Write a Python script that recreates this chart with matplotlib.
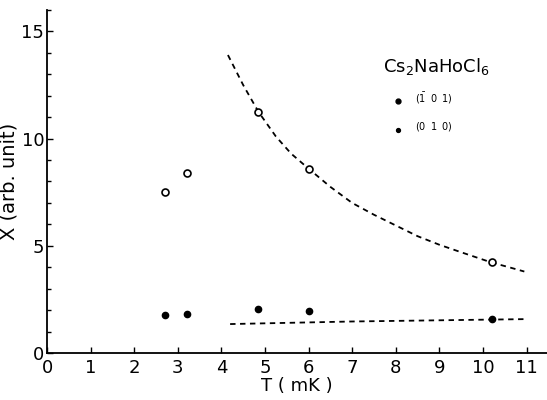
import matplotlib
matplotlib.use("Agg")
import matplotlib.pyplot as plt
from matplotlib.ticker import MultipleLocator

# measured points, T (mK) vs X (arb. unit)
t_pts = [2.7, 3.2, 4.85, 6.0, 10.2]
x_open = [7.5, 8.4, 11.25, 8.6, 4.23]   # (-1 0 1)
x_fill = [1.78, 1.82, 2.07, 1.97, 1.57]  # (0 1 0)

# dashed guide curves
t_up = [4.15, 4.5, 4.85, 5.25, 5.6, 6.0, 6.5, 7.0, 7.5, 8.0, 8.5, 9.0, 9.5, 10.2, 10.6, 10.95]
x_up = [13.9, 12.5, 11.25, 10.1, 9.3, 8.6, 7.75, 7.0, 6.45, 5.95, 5.45, 5.05, 4.7, 4.22, 4.0, 3.8]
t_low = [4.2, 7.0, 10.95]
x_low = [1.35, 1.47, 1.58]

plt.rcParams['font.family'] = 'DejaVu Sans'

fig = plt.figure(figsize=(5.47, 4.0), dpi=100)
ax = fig.add_axes([0.086, 0.1175, 0.914, 0.8575])

ax.plot(t_up, x_up, color='black', linestyle=(0, (3, 2.5)), linewidth=1.3)
ax.plot(t_low, x_low, color='black', linestyle=(0, (3, 2.5)), linewidth=1.3)

ax.plot(t_pts, x_open, 'o', markersize=5, markerfacecolor='white',
        markeredgecolor='black', markeredgewidth=1.2, zorder=3)
ax.plot(t_pts, x_fill, 'o', markersize=4.5, markerfacecolor='black',
        markeredgecolor='black', zorder=3)

ax.set_xlim(0, 11.47)
ax.set_ylim(0, 16)
ax.spines['top'].set_visible(False)
ax.spines['right'].set_visible(False)
ax.spines['left'].set_linewidth(1.3)
ax.spines['bottom'].set_linewidth(1.3)

ax.xaxis.set_major_locator(MultipleLocator(1))
ax.yaxis.set_major_locator(MultipleLocator(5))
ax.yaxis.set_minor_locator(MultipleLocator(1))
ax.tick_params(axis='both', which='major', direction='in', length=4,
               width=1, labelsize=13)
ax.tick_params(axis='y', which='minor', direction='in', length=3, width=1)
ax.tick_params(axis='x', pad=4)
ax.tick_params(axis='y', pad=2)

ax.set_xlabel('T ( mK )', fontsize=13, labelpad=0)
ax.set_ylabel('X (arb. unit)', fontsize=14, labelpad=2)

# legend drawn by hand like the original
ax.text(7.7, 13.35, 'Cs$_2$NaHoCl$_6$', fontsize=13, ha='left', va='center')
ax.plot([8.05], [11.75], 'o', markersize=3.5, color='black')
ax.text(8.45, 11.85, r'$(\bar{1}\;\;0\;\;1)$', fontsize=7, ha='left', va='center')
ax.plot([8.05], [10.4], 'o', markersize=2.8, color='black')
ax.text(8.45, 10.55, r'$(0\;\;1\;\;0)$', fontsize=7, ha='left', va='center')

fig.savefig('out.png', dpi=100)
